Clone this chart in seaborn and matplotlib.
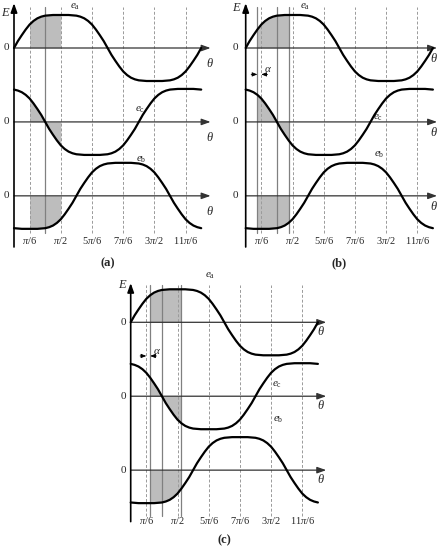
import numpy as np
import seaborn as sns
import matplotlib
matplotlib.use("Agg")
import matplotlib.pyplot as plt

# sample angles (degrees), one step = pi/24
theta = np.arange(0, 360.1, 7.5)

# back-EMF waveforms (normalised amplitude)
e_a = [0, .21, .39, .56, .71, .82, .90, .95, .98, .99, 1, 1, 1, 1, 1, .99,
       .98, .95, .90, .82, .71, .56, .39, .21, 0, -.21, -.39, -.56, -.71, -.82, -.90, -.95,
       -.98, -.99, -1, -1, -1, -1, -1, -.99, -.98, -.95, -.90, -.82, -.71, -.56, -.39, -.21, 0]
e_c = [.98, .95, .90, .82, .71, .56, .39, .21, 0, -.21, -.39, -.56, -.71, -.82, -.90, -.95,
       -.98, -.99, -1, -1, -1, -1, -1, -.99, -.98, -.95, -.90, -.82, -.71, -.56, -.39, -.21,
       0, .21, .39, .56, .71, .82, .90, .95, .98, .99, 1, 1, 1, 1, 1, .99, .98]
e_b = [-.98, -.99, -1, -1, -1, -1, -1, -.99, -.98, -.95, -.90, -.82, -.71, -.56, -.39, -.21,
       0, .21, .39, .56, .71, .82, .90, .95, .98, .99, 1, 1, 1, 1, 1, .99,
       .98, .95, .90, .82, .71, .56, .39, .21, 0, -.21, -.39, -.56, -.71, -.82, -.90, -.95, -.98]

tick_pos = [30, 90, 150, 210, 270, 330]
tick_labels = [r"$\pi/6$", r"$\pi/2$", r"$5\pi/6$", r"$7\pi/6$", r"$3\pi/2$", r"$11\pi/6$"]

alpha_deg = 7.5
panels = {
    "a": dict(shade=(30, 90), solid=[60], alpha=None),
    "b": dict(shade=(30 - alpha_deg, 90 - alpha_deg), solid=[30 - alpha_deg, 60, 90 - alpha_deg],
              alpha=(30 - alpha_deg, 30)),
    "c": dict(shade=(30 + alpha_deg, 90 + alpha_deg), solid=[30 + alpha_deg, 60, 90 + alpha_deg],
              alpha=(30, 30 + alpha_deg)),
}

sns.set_theme(style="white")
plt.rcParams["font.family"] = ["Liberation Serif", "DejaVu Serif"]
plt.rcParams["mathtext.fontset"] = "custom"
plt.rcParams["mathtext.rm"] = "Liberation Serif"
plt.rcParams["mathtext.it"] = "Liberation Serif:italic"

FW, FH = 447, 550
SX, SY = 0.52, 33.0       # px per degree, px per unit
GAP = 2.24                 # distance between zero lines (units)
offsets = [0, -GAP, -2 * GAP]

fig = plt.figure(figsize=(FW / 100, FH / 100), dpi=100)

# layout of each panel (pixels) + label placement
layout = {
    "a": dict(rect=(0, 0, 223, 275), x0=14, zero=48, xend=378, ytop=1.36, ybot=-6.03,
              vtop=1.24, vbot=-5.6, ticky=-5.82, lety=-6.52, zx=-14, Ex=-16, Ey=1.05,
              lab=[(118, 1.25), (242, 0.36), (245, 1.09)], ay=-0.8, aty=-0.66, thx=377, thy=-0.46),
    "b": dict(rect=(223, 0, 224, 275), x0=245.7, zero=48, xend=368, ytop=1.36, ybot=-6.03,
              vtop=1.24, vbot=-5.6, ticky=-5.82, lety=-6.52, zx=-20, Ex=-17, Ey=1.2,
              lab=[(114, 1.24), (254, 0.14), (256, 1.23)], ay=-0.8, aty=-0.66, thx=362, thy=-0.33),
    "c": dict(rect=(100, 272, 250, 278), x0=130.7, zero=322.3, xend=376, ytop=1.19, ybot=-6.04,
              vtop=1.13, vbot=-5.86, ticky=-6.02, lety=-6.6, zx=-14, Ex=-15, Ey=1.13,
              lab=[(152, 1.40), (281, 0.35), (284, 1.52)], ay=-1.02, aty=-0.87, thx=365, thy=-0.28),
}

curves = [("a", e_a), ("c", e_c), ("b", e_b)]

for key, cfg in panels.items():
    lay = layout[key]
    L, T, W, H = lay["rect"]
    ax = fig.add_axes([L / FW, 1 - (T + H) / FH, W / FW, H / FH])
    ax.set_xlim((L - lay["x0"]) / SX, (L + W - lay["x0"]) / SX)
    ax.set_ylim((lay["zero"] - (T + H)) / SY, (lay["zero"] - T) / SY)
    ax.axis("off")

    lo, hi = cfg["shade"]
    mask = (theta >= lo - 1e-6) & (theta <= hi + 1e-6)

    # dashed guides and solid commutation lines
    for x in tick_pos:
        ax.plot([x, x], [lay["vbot"], lay["vtop"]], color="#9a9a9a", lw=0.7,
                ls=(0, (3, 2)), zorder=2)
    for x in cfg["solid"]:
        ax.plot([x, x], [lay["vbot"], lay["vtop"]], color="#808080", lw=0.9, zorder=2)

    for (name, vals), off, (lx, ly) in zip(curves, offsets, lay["lab"]):
        vals = np.asarray(vals)
        ax.fill_between(theta[mask], off, vals[mask] + off, color="#bdbdbd", lw=0, zorder=1)
        ax.annotate("", xy=(lay["xend"], off), xytext=(0, off),
                    arrowprops=dict(arrowstyle="-|>,head_length=0.45,head_width=0.16",
                                    color="#333333", lw=0.9, shrinkA=0, shrinkB=0), zorder=3)
        sns.lineplot(x=theta, y=vals + off, ax=ax, color="black", lw=1.6, zorder=4,
                     estimator=None, sort=False)
        ax.text(lay["zx"], off, "0", fontsize=8, ha="center", va="center")
        ax.text(lay["thx"], off + lay["thy"], r"$\theta$", fontsize=9, ha="center", va="center")
        ax.text(lx, off + ly, r"$e_{\rm %s}$" % name, fontsize=8, ha="center", va="center")

    # vertical E axis
    ax.annotate("", xy=(0, lay["ytop"]), xytext=(0, lay["ybot"]),
                arrowprops=dict(arrowstyle="-|>,head_length=0.45,head_width=0.16",
                                color="black", lw=1.2, shrinkA=0, shrinkB=0), zorder=5)
    ax.text(lay["Ex"], lay["Ey"], r"$E$", fontsize=9, ha="center", va="center")

    for x, t in zip(tick_pos, tick_labels):
        ax.text(x, lay["ticky"], t, fontsize=7.5, ha="center", va="center")
    ax.text(180, lay["lety"], "(%s)" % key, fontsize=9, fontweight="bold",
            ha="center", va="center")

    # alpha offset marker
    if cfg["alpha"] is not None:
        a0, a1 = cfg["alpha"]
        arr = dict(arrowstyle="-|>,head_length=0.25,head_width=0.1", color="black",
                   lw=0.6, shrinkA=0, shrinkB=0)
        ax.annotate("", xy=(a0, lay["ay"]), xytext=(a0 - 12, lay["ay"]), arrowprops=arr)
        ax.annotate("", xy=(a1, lay["ay"]), xytext=(a1 + 12, lay["ay"]), arrowprops=arr)
        ax.text(a1 + 5, lay["aty"], r"$\alpha$", fontsize=8, ha="left", va="center")

fig.savefig("out.png", dpi=100)
